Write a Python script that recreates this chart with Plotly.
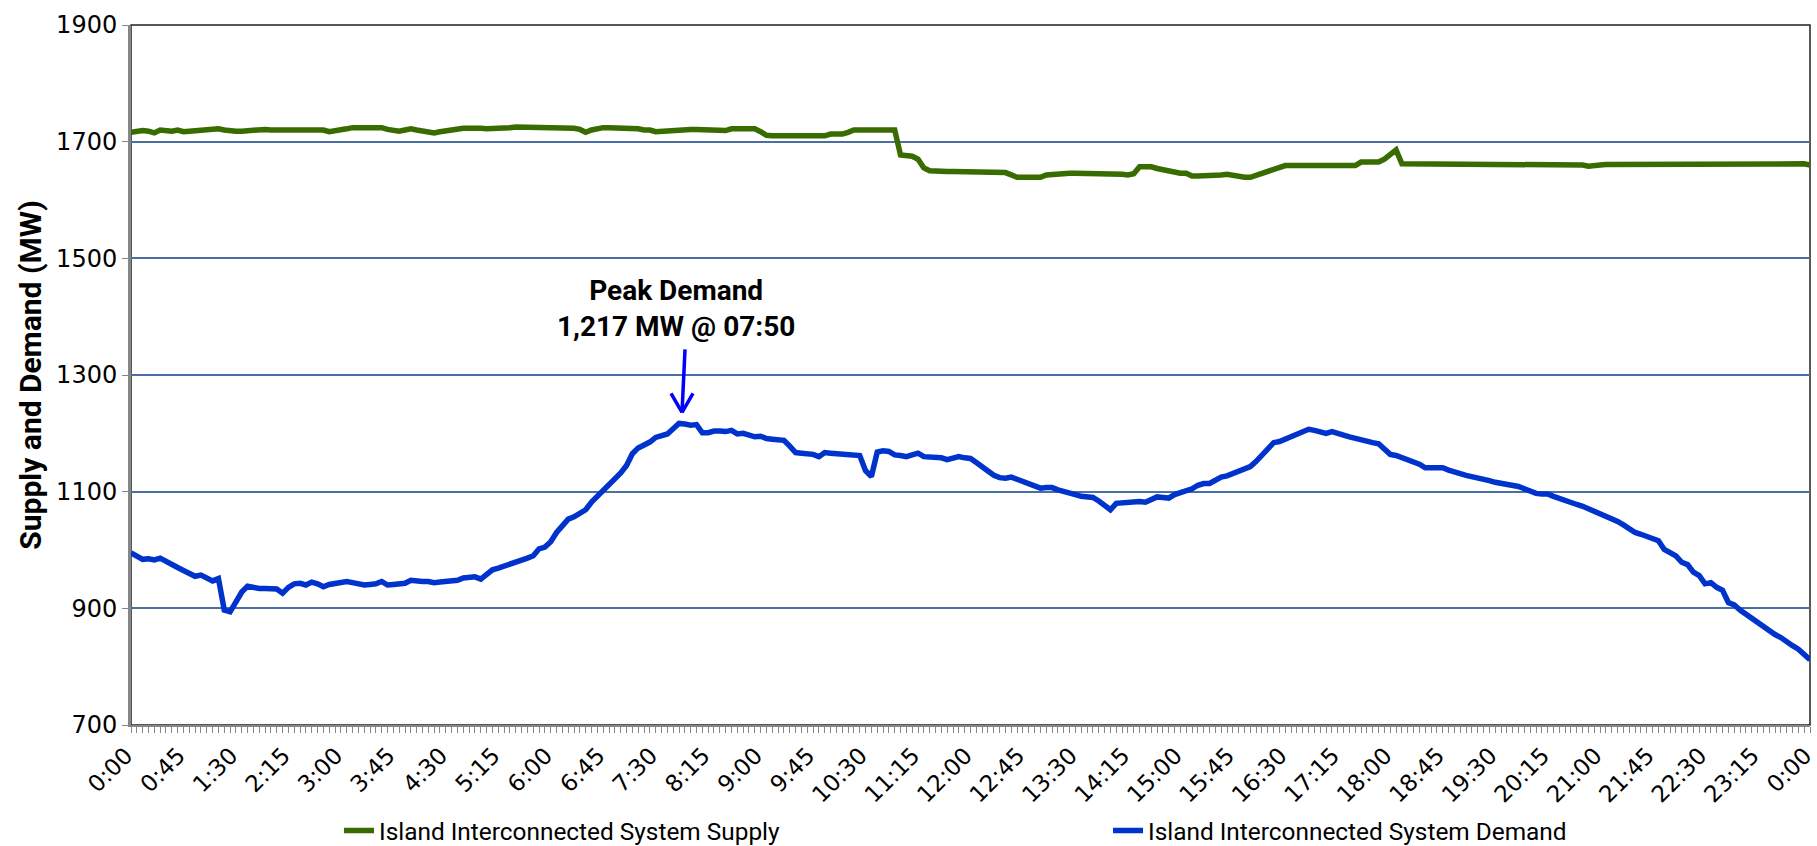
import plotly.graph_objects as go

# Time of day in minutes (5-minute intervals, 0:00 .. 24:00)
MINUTES = list(range(0, 1441, 5))

TICK_VALS = list(range(0, 1441, 45))
TICK_LABELS = ["0:00", "0:45", "1:30", "2:15", "3:00", "3:45", "4:30", "5:15", "6:00",
               "6:45", "7:30", "8:15", "9:00", "9:45", "10:30", "11:15", "12:00", "12:45",
               "13:30", "14:15", "15:00", "15:45", "16:30", "17:15", "18:00", "18:45",
               "19:30", "20:15", "21:00", "21:45", "22:30", "23:15", "0:00"]

SUPPLY = [
    1716, 1718, 1719, 1718, 1715, 1720, 1719, 1718, 1720, 1717, 1718, 1719,
    1720, 1719, 1720, 1722, 1720, 1718, 1718, 1718, 1719, 1720, 1720, 1721,
    1720, 1720, 1720, 1721, 1721, 1722, 1722, 1722, 1722, 1720, 1717, 1718,
    1720, 1722, 1724, 1724, 1724, 1724, 1724, 1724, 1721, 1719, 1718, 1720,
    1722, 1720, 1718, 1716, 1715, 1717, 1719, 1721, 1722, 1723, 1723, 1724,
    1723, 1722, 1722, 1722, 1724, 1724, 1725, 1725, 1725, 1725, 1725, 1724,
    1724, 1724, 1724, 1724, 1723, 1721, 1716, 1720, 1723, 1724, 1724, 1724,
    1724, 1723, 1722, 1722, 1720, 1720, 1717, 1718, 1718, 1720, 1721, 1721,
    1721, 1721, 1721, 1721, 1719, 1720, 1719, 1722, 1722, 1722, 1722, 1722,
    1717, 1711, 1710, 1710, 1710, 1709, 1709, 1710, 1709, 1710, 1710, 1710,
    1713, 1713, 1713, 1716, 1720, 1720, 1720, 1720, 1720, 1720, 1720, 1720,
    1677, 1677, 1675, 1670, 1655, 1650, 1649, 1649, 1649, 1649, 1649, 1649,
    1649, 1649, 1647, 1647, 1647, 1647, 1647, 1643, 1639, 1639, 1639, 1639,
    1639, 1643, 1644, 1646, 1646, 1646, 1646, 1646, 1646, 1646, 1646, 1646,
    1646, 1646, 1644, 1643, 1645, 1657, 1657, 1657, 1654, 1652, 1648, 1647,
    1646, 1646, 1641, 1641, 1641, 1641, 1642, 1643, 1644, 1642, 1640, 1639,
    1639, 1642, 1647, 1648, 1652, 1656, 1659, 1659, 1659, 1659, 1660, 1659,
    1658, 1658, 1658, 1659, 1658, 1658, 1659, 1665, 1665, 1665, 1665, 1670,
    1679, 1686, 1662, 1662, 1662, 1662, 1662, 1662, 1662, 1662, 1662, 1662,
    1662, 1662, 1662, 1661, 1661, 1661, 1661, 1661, 1661, 1661, 1661, 1661,
    1661, 1661, 1661, 1661, 1661, 1661, 1661, 1661, 1661, 1660, 1658, 1658,
    1660, 1661, 1661, 1661, 1661, 1661, 1661, 1661, 1661, 1661, 1662, 1662,
    1662, 1662, 1662, 1662, 1662, 1662, 1662, 1662, 1662, 1662, 1662, 1663,
    1663, 1663, 1663, 1663, 1663, 1663, 1663, 1663, 1662, 1662, 1663, 1662,
    1660,
]

DEMAND = [
    995, 989, 984, 985, 983, 986, 980, 975, 970, 965, 959, 955,
    957, 952, 947, 951, 897, 894, 912, 928, 938, 935, 934, 934,
    934, 933, 926, 936, 942, 943, 940, 945, 942, 937, 941, 942,
    943, 946, 944, 941, 940, 941, 942, 946, 940, 941, 942, 943,
    948, 946, 946, 946, 944, 945, 946, 946, 948, 952, 953, 954,
    950, 958, 966, 969, 972, 976, 979, 983, 986, 990, 1002, 1005,
    1014, 1030, 1040, 1053, 1057, 1062, 1069, 1082, 1092, 1099, 1110, 1121,
    1132, 1145, 1165, 1175, 1180, 1185, 1193, 1196, 1199, 1208, 1217, 1216,
    1214, 1215, 1201, 1201, 1204, 1204, 1203, 1205, 1199, 1200, 1197, 1194,
    1195, 1191, 1190, 1190, 1188, 1178, 1167, 1166, 1165, 1164, 1160, 1167,
    1166, 1165, 1164, 1164, 1163, 1162, 1136, 1126, 1168, 1170, 1169, 1163,
    1162, 1160, 1163, 1166, 1160, 1160, 1160, 1158, 1155, 1158, 1160, 1158,
    1157, 1150, 1142, 1133, 1128, 1124, 1123, 1125, 1121, 1117, 1114, 1108,
    1106, 1107, 1107, 1103, 1101, 1099, 1095, 1092, 1090, 1090, 1084, 1076,
    1069, 1080, 1081, 1081, 1081, 1083, 1082, 1086, 1091, 1090, 1089, 1095,
    1098, 1101, 1105, 1111, 1114, 1114, 1120, 1125, 1127, 1131, 1136, 1141,
    1143, 1152, 1163, 1176, 1184, 1186, 1190, 1194, 1198, 1202, 1207, 1205,
    1203, 1200, 1203, 1199, 1197, 1194, 1191, 1189, 1186, 1184, 1182, 1172,
    1164, 1162, 1158, 1155, 1152, 1147, 1141, 1141, 1142, 1141, 1137, 1133,
    1131, 1128, 1126, 1125, 1122, 1119, 1116, 1114, 1113, 1112, 1109, 1105,
    1100, 1097, 1096, 1096, 1092, 1088, 1086, 1082, 1078, 1075, 1071, 1067,
    1063, 1058, 1054, 1049, 1043, 1035, 1030, 1027, 1023, 1018, 1016, 1001,
    995, 990, 979, 975, 962, 956, 942, 944, 936, 931, 910, 906,
    897, 890, 884, 877, 869, 861, 855, 850, 842, 836, 830, 820,
    812,
]

PEAK_TIME = 470      # 07:50
PEAK_VALUE = 1217
PEAK_TEXT = "Peak Demand<br>1,217 MW @ 07:50"

SUPPLY_NAME = "Island Interconnected System Supply"
DEMAND_NAME = "Island Interconnected System Demand"

GREEN = "#386b00"
BLUE = "#0033cc"
ARROW = "#0000ff"
AXIS_GRAY = "#868686"
GRID = "#4a6fa5"

fig = go.Figure()
fig.add_trace(go.Scatter(x=MINUTES, y=SUPPLY, mode="lines", name=SUPPLY_NAME,
                         line=dict(color=GREEN, width=5.5)))
fig.add_trace(go.Scatter(x=MINUTES, y=DEMAND, mode="lines", name=DEMAND_NAME,
                         line=dict(color=BLUE, width=5.5)))

tickfont = dict(family="DejaVu Sans", size=24, color="black")
xtickfont = dict(family="DejaVu Sans", size=23, color="black")

fig.update_layout(
    width=1817, height=846,
    margin=dict(l=131, r=7, t=25, b=121, autoexpand=False),
    paper_bgcolor="white", plot_bgcolor="white",
    showlegend=True,
    legend=dict(orientation="h", x=0.1239, y=-0.151, xanchor="left", yanchor="middle",
                font=dict(family="Roboto", size=24.4, color="black"),
                entrywidth=724, entrywidthmode="pixels", traceorder="normal",
                bgcolor="rgba(0,0,0,0)"),
    xaxis=dict(range=[0, 1440], tickmode="array", tickvals=TICK_VALS, ticktext=TICK_LABELS,
               tickangle=-45, ticks="outside", ticklen=6, tickwidth=1, tickcolor=AXIS_GRAY,
               showline=True, linecolor=AXIS_GRAY, linewidth=2, showgrid=False, zeroline=False,
               ticklabeloverflow="allow", ticklabelshift=-5,
               minor=dict(tickmode="linear", tick0=0, dtick=5, ticks="outside", ticklen=6,
                          tickwidth=1, tickcolor=AXIS_GRAY, showgrid=False),
               tickfont=xtickfont),
    yaxis=dict(range=[700, 1900], tickmode="linear", tick0=700, dtick=200,
               showgrid=True, gridcolor=GRID, gridwidth=1.5,
               ticks="outside", ticklen=6, tickwidth=1, tickcolor=AXIS_GRAY,
               showline=True, linecolor=AXIS_GRAY, linewidth=3, zeroline=False,
               tickfont=tickfont,
               title=dict(text="Supply and Demand (MW)", standoff=6,
                          font=dict(family="Roboto", size=30, color="black", weight=700))),
)

# plot-area border (top and right)
fig.add_shape(type="rect", xref="paper", yref="paper", x0=0, x1=1, y0=0, y1=1,
              line=dict(color="#222222", width=1.5), layer="below")

# peak annotation text
fig.add_annotation(x=PEAK_TIME, y=PEAK_VALUE, xref="x", yref="y", text=PEAK_TEXT,
                   showarrow=False, yshift=115, xshift=-3,
                   font=dict(family="Roboto", size=28, color="black", weight=700),
                   align="center")

# arrow (shaft + open V head), in pixel offsets from the peak point
arrow_segments = [((6, 74), (3, 11)), ((-8, 30), (3, 11)), ((14, 30), (3, 11))]
for (p0, p1) in arrow_segments:
    fig.add_shape(type="line", xref="x", yref="y", xsizemode="pixel", ysizemode="pixel",
                  xanchor=PEAK_TIME, yanchor=PEAK_VALUE,
                  x0=p0[0], y0=p0[1], x1=p1[0], y1=p1[1],
                  line=dict(color=ARROW, width=3.5), layer="above")

# remove the browser's default 8px page margin so the figure fills the window exactly
fig.write_html("out.html",
               config={"displayModeBar": False},
               post_script="document.body.style.margin='0px';document.body.style.overflow='hidden';")
